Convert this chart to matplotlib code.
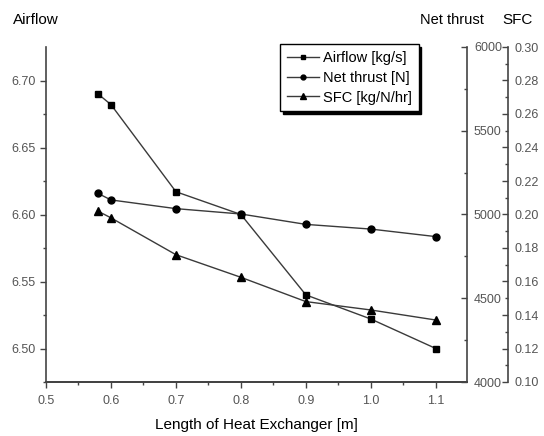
import matplotlib.pyplot as plt
import numpy as np

plt.rcParams['font.family'] = ['Liberation Sans', 'DejaVu Sans']

# heat exchanger length [m]
length = [0.58, 0.6, 0.7, 0.8, 0.9, 1.0, 1.1]
airflow = [6.690, 6.682, 6.617, 6.600, 6.540, 6.522, 6.500]
net_thrust = [5126, 5087, 5035, 5003, 4941, 4913, 4868]
sfc = [0.202, 0.198, 0.176, 0.1625, 0.148, 0.143, 0.137]

line_col = '#3a3a3a'
tick_col = '#555555'

fig = plt.figure(figsize=(5.44, 4.36), dpi=100)
ax = fig.add_axes([46 / 544, 1 - 382 / 436, 421 / 544, 335 / 436])
ax2 = ax.twinx()
ax3 = ax.twinx()

l1, = ax.plot(length, airflow, color=line_col, lw=1.0, marker='s', ms=4.5,
              mfc='k', mec='k', label='Airflow [kg/s]')
l2, = ax2.plot(length, net_thrust, color=line_col, lw=1.0, marker='o', ms=5,
               mfc='k', mec='k', label='Net thrust [N]')
l3, = ax3.plot(length, sfc, color=line_col, lw=1.0, marker='^', ms=5.5,
               mfc='k', mec='k', label='SFC [kg/N/hr]')

ax.set_xlim(0.5, 1.148)
ax.set_ylim(6.475, 6.725)
ax2.set_ylim(4000, 6000)
ax3.set_ylim(0.10, 0.30)

ax.set_xticks(np.arange(0.5, 1.11, 0.1))
ax.set_xticks(np.arange(0.55, 1.11, 0.1), minor=True)
ax.set_xticklabels(['0.5', '0.6', '0.7', '0.8', '0.9', '1.0', '1.1'])
ax.set_yticks([6.50, 6.55, 6.60, 6.65, 6.70])
ax.set_yticks([6.475, 6.525, 6.575, 6.625, 6.675], minor=True)
ax.set_yticklabels(['6.50', '6.55', '6.60', '6.65', '6.70'])

ax2.set_yticks([4000, 4500, 5000, 5500, 6000])
ax2.set_yticks([4250, 4750, 5250, 5750], minor=True)
ax3.set_yticks(np.round(np.arange(0.10, 0.301, 0.02), 2))
ax3.set_yticks(np.round(np.arange(0.11, 0.30, 0.02), 2), minor=True)
ax3.set_yticklabels(['%.2f' % v for v in np.arange(0.10, 0.301, 0.02)])

# second right axis sits 41 px outside the first one
ax3.spines['right'].set_position(('outward', 41 * 72 / 100))

for a in (ax, ax2, ax3):
    a.spines['top'].set_visible(False)
    for s in a.spines.values():
        s.set_color('#444444')
        s.set_linewidth(1.2)

ax.spines['right'].set_visible(False)
ax2.spines['left'].set_visible(False)
ax3.spines['left'].set_visible(False)

ax.tick_params(which='both', direction='out', colors='#444444', labelcolor=tick_col,
               labelsize=9, width=1)
ax.tick_params(which='major', length=4)
ax.tick_params(which='minor', length=2.5)
ax.tick_params(axis='x', pad=5)
for a in (ax2, ax3):
    a.tick_params(which='both', direction='in', colors='#444444', labelcolor=tick_col,
                  labelsize=9, width=1, pad=5)
    a.tick_params(which='major', length=4)
    a.tick_params(which='minor', length=2.5)

ax.set_xlabel('Length of Heat Exchanger [m]', fontsize=11, labelpad=8)

fig.text(13 / 544, 1 - 20 / 436, 'Airflow', fontsize=11, va='center', ha='left')
fig.text(420 / 544, 1 - 20 / 436, 'Net thrust', fontsize=10.5, va='center', ha='left')
fig.text(502 / 544, 1 - 20 / 436, 'SFC', fontsize=11, va='center', ha='left')

leg = ax.legend(handles=[l1, l2, l3], loc='upper left', bbox_to_anchor=(0.556, 1.008),
                fontsize=10.5, fancybox=False, edgecolor='k', framealpha=1,
                shadow={'facecolor': 'k', 'edgecolor': 'k', 'alpha': 1},
                handlelength=2.2, handletextpad=0.3, borderpad=0.45, labelspacing=0.4,
                borderaxespad=0, markerscale=0.7)
leg.get_frame().set_linewidth(1.0)
leg.set_zorder(10)
ax.set_zorder(ax3.get_zorder() + 1)
ax.patch.set_visible(False)

plt.savefig('out.png', dpi=100)
